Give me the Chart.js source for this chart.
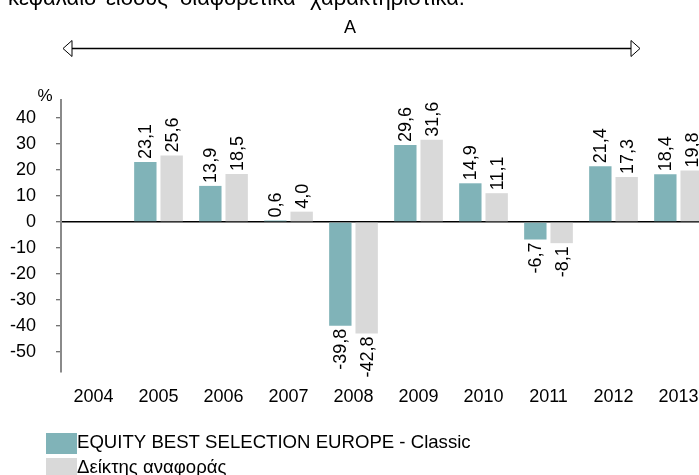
<!DOCTYPE html>
<html>
<head>
<meta charset="utf-8">
<script src="https://cdn.jsdelivr.net/npm/chart.js@4.4.0/dist/chart.umd.min.js"></script>
<style>
  html, body { margin: 0; padding: 0; overflow: hidden; background: #fff; }
  canvas { display: block; }
</style>
</head>
<body>
<canvas id="perfChart" width="711" height="475"></canvas>
<script>
// data
const years = ['2004', '2005', '2006', '2007', '2008', '2009', '2010', '2011', '2012', '2013'];
const fundValues = [null, 23.1, 13.9, 0.6, -39.8, 29.6, 14.9, -6.7, 21.4, 18.4];
const indexValues = [null, 25.6, 18.5, 4.0, -42.8, 31.6, 11.1, -8.1, 17.3, 19.8];
const yTicks = [40, 30, 20, 10, 0, -10, -20, -30, -40, -50];
const seriesNames = ['EQUITY BEST SELECTION EUROPE - Classic', 'Δείκτης αναφοράς'];
const headWords = ['κεφάλαιο', 'είδους', 'διαφορετικά', 'χαρακτηριστικά.'];
const periodLabel = 'A';

const FONT = '"Liberation Sans", Arial, sans-serif';

function fmt(v) {
  return v.toFixed(1).replace('.', ',');
}

// value labels, rotated, at the end of each bar
const barLabels = {
  id: 'barLabels',
  afterDatasetsDraw(chart) {
    const ctx = chart.ctx;
    ctx.save();
    ctx.font = '18px ' + FONT;
    ctx.fillStyle = '#000';
    ctx.textBaseline = 'middle';
    chart.data.datasets.forEach((ds, i) => {
      const meta = chart.getDatasetMeta(i);
      meta.data.forEach((bar, j) => {
        const v = ds.data[j];
        if (v === null || v === undefined) return;
        ctx.save();
        if (v >= 0) {
          ctx.translate(bar.x, bar.y - 3);
          ctx.rotate(-Math.PI / 2);
          ctx.textAlign = 'left';
        } else {
          ctx.translate(bar.x, bar.y + 3);
          ctx.rotate(-Math.PI / 2);
          ctx.textAlign = 'right';
        }
        ctx.fillText(fmt(v), 0, 1);
        ctx.restore();
      });
    });
    ctx.restore();
  }
};

// header text, period arrow, % sign and legend
const extras = {
  id: 'extras',
  afterDraw(chart) {
    const ctx = chart.ctx;
    ctx.save();
    ctx.fillStyle = '#000';

    // cut off line of text at the very top
    ctx.font = '22px ' + FONT;
    ctx.textBaseline = 'alphabetic';
    ctx.textAlign = 'left';
    const wx = [8, 106, 180, 310];
    headWords.forEach((w, i) => ctx.fillText(w, wx[i], 5));

    // period label and double arrow
    ctx.font = '18px ' + FONT;
    ctx.textAlign = 'center';
    ctx.textBaseline = 'middle';
    ctx.fillText(periodLabel, 350, 28);

    const ay = 48.5, x1 = 63, x2 = 640;
    ctx.strokeStyle = '#000';
    ctx.lineWidth = 1.5;
    ctx.beginPath();
    ctx.moveTo(x1 + 8, ay);
    ctx.lineTo(x2 - 8, ay);
    ctx.stroke();
    ctx.lineWidth = 1;
    ctx.fillStyle = '#fff';
    ctx.beginPath();
    ctx.moveTo(x1, ay); ctx.lineTo(x1 + 9, ay - 8); ctx.lineTo(x1 + 9, ay + 8); ctx.closePath();
    ctx.fill(); ctx.stroke();
    ctx.beginPath();
    ctx.moveTo(x2, ay); ctx.lineTo(x2 - 9, ay - 8); ctx.lineTo(x2 - 9, ay + 8); ctx.closePath();
    ctx.fill(); ctx.stroke();

    // % unit
    ctx.fillStyle = '#000';
    ctx.font = '17px ' + FONT;
    ctx.textAlign = 'center';
    ctx.fillText('%', 45, 96);

    // legend
    ctx.font = '18.6px ' + FONT;
    ctx.textAlign = 'left';
    chart.data.datasets.forEach((ds, i) => {
      const top = 433 + i * 25;
      ctx.fillStyle = ds.backgroundColor;
      ctx.fillRect(46, top, 31, 21);
      ctx.fillStyle = '#000';
      ctx.fillText(ds.label, 77, top + 10);
    });
    ctx.restore();
  }
};

const ctx = document.getElementById('perfChart').getContext('2d');
const perfChart = new Chart(ctx, {
  type: 'bar',
  data: {
    labels: years,
    datasets: [{
      label: seriesNames[0],
      data: fundValues,
      backgroundColor: '#80B3B8',
      borderWidth: 0,
      categoryPercentage: 0.81,
      barPercentage: 0.85
    }, {
      label: seriesNames[1],
      data: indexValues,
      backgroundColor: '#D9D9D9',
      borderWidth: 0,
      categoryPercentage: 0.81,
      barPercentage: 0.85
    }]
  },
  options: {
    responsive: false,
    animation: false,
    maintainAspectRatio: false,
    layout: {
      padding: { top: 100, left: 0, right: 0, bottom: 0 }
    },
    scales: {
      x: {
        grid: { display: false },
        border: { display: false },
        ticks: {
          color: '#000',
          padding: 6,
          maxRotation: 0,
          autoSkip: false,
          font: { family: FONT, size: 18 }
        },
        afterFit(scale) { scale.height = 103; }
      },
      y: {
        min: -57.6,
        max: 46.9,
        afterBuildTicks(scale) {
          scale.ticks = yTicks.map(v => ({ value: v }));
        },
        afterFit(scale) { scale.width = 61; },
        border: { display: true, color: '#8a8a8a', width: 2 },
        grid: {
          drawOnChartArea: true,
          drawTicks: true,
          tickLength: 5,
          tickColor: '#444',
          tickWidth: 1,
          lineWidth: 1.5,
          color: c => (c.tick && c.tick.value === 0) ? '#000' : 'rgba(0,0,0,0)'
        },
        ticks: {
          color: '#000',
          padding: 20,
          font: { family: FONT, size: 18 },
          callback: v => v
        }
      }
    },
    plugins: {
      legend: { display: false },
      tooltip: { enabled: false }
    }
  },
  plugins: [barLabels, extras]
});
</script>
</body>
</html>
